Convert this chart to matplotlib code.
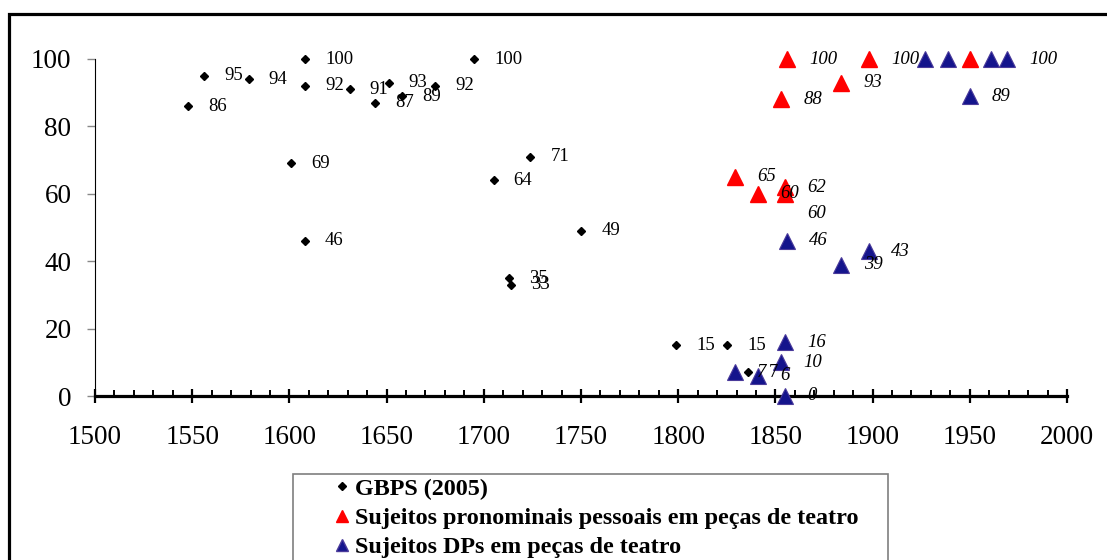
import matplotlib
matplotlib.use('Agg')
import matplotlib.pyplot as plt
from matplotlib.lines import Line2D
from matplotlib.patches import Rectangle
from matplotlib.ticker import MultipleLocator

# ============================================================================
# DATA
# ============================================================================
gbps_years = [1548, 1556, 1579, 1608, 1608, 1601, 1608, 1631, 1644, 1651,
              1658, 1675, 1695, 1705, 1724, 1713, 1714, 1750, 1799, 1825, 1836]
gbps_values = [86, 95, 94, 100, 92, 69, 46, 91, 87, 93,
               89, 92, 100, 64, 71, 35, 33, 49, 15, 15, 7]

pron_years = [1829, 1841, 1853, 1855, 1855, 1856, 1884, 1898, 1950]
pron_values = [65, 60, 88, 62, 60, 100, 93, 100, 100]
pron_labels = ['65', '60', '88', '62', '60', '100', '93', '100', '']

dp_years = [1829, 1841, 1853, 1855, 1856, 1855, 1884, 1898,
            1927, 1939, 1950, 1961, 1969]
dp_values = [7, 6, 10, 16, 46, 0, 39, 43, 100, 100, 89, 100, 100]
dp_labels = ['7', '6', '10', '16', '46', '0', '39', '43',
             '', '', '89', '', '100']

legend_labels = ['GBPS (2005)',
                 'Sujeitos pronominais pessoais em peças de teatro',
                 'Sujeitos DPs em peças de teatro']

# ============================================================================
# STYLE
# ============================================================================
SERIF = 'Liberation Serif'
RED = '#ff0000'
NAVY = '#14148c'
W, H = 1107, 560

fig = plt.figure(figsize=(W / 100, H / 100), dpi=100)
ax = fig.add_axes([95 / W, 1 - 396 / H, (1067 - 95) / W, (396 - 59) / H])

# series
ax.plot(gbps_years, gbps_values, linestyle='none', marker='D', markersize=4,
        color='black', clip_on=False, zorder=3)
ax.plot(pron_years, pron_values, linestyle='none', marker='^', markersize=11,
        color=RED, clip_on=False, zorder=4)
ax.plot(dp_years, dp_values, linestyle='none', marker='^', markersize=11,
        markerfacecolor=NAVY, markeredgecolor='#4a3a9a', markeredgewidth=0.8,
        clip_on=False, zorder=5)

# data labels to the right of each point
for x, y in zip(gbps_years, gbps_values):
    ax.annotate(str(y), (x, y), xytext=(14.5, 0), textcoords='offset points',
                ha='left', va='center', fontsize=13.5, family=SERIF,
                annotation_clip=False, zorder=6)

for i, (x, y, s) in enumerate(zip(pron_years, pron_values, pron_labels)):
    if not s:
        continue
    dy = -14 if (i == 4) else 0
    ax.annotate(s, (x, y), xytext=(16, dy), textcoords='offset points',
                ha='left', va='center', fontsize=13.5, family=SERIF,
                style='italic', annotation_clip=False, zorder=6)

for x, y, s in zip(dp_years, dp_values, dp_labels):
    if not s:
        continue
    ax.annotate(s, (x, y), xytext=(16, 0), textcoords='offset points',
                ha='left', va='center', fontsize=13.5, family=SERIF,
                style='italic', annotation_clip=False, zorder=6)

# axes
ax.set_xlim(1500, 2000)
ax.set_ylim(0, 100)
ax.xaxis.set_major_locator(MultipleLocator(50))
ax.xaxis.set_minor_locator(MultipleLocator(10))
ax.yaxis.set_major_locator(MultipleLocator(20))

for side in ['top', 'right']:
    ax.spines[side].set_visible(False)
ax.spines['bottom'].set_linewidth(2.3)
ax.spines['left'].set_linewidth(0.8)
ax.spines['bottom'].set_zorder(2)

ax.tick_params(axis='x', which='major', direction='inout', length=10,
               width=1.6, pad=16, labelsize=19.5)
ax.tick_params(axis='x', which='minor', direction='in', length=4.5,
               width=1.4)
ax.tick_params(axis='y', which='major', direction='out', length=6,
               width=1, color='#888888', pad=11, labelsize=19.5)
for lbl in ax.get_xticklabels() + ax.get_yticklabels():
    lbl.set_fontfamily(SERIF)

# outer chart border (only top and left visible in the crop)
fig.patches.append(Rectangle((9 / W, -0.1), 1.2, 1 - 14 / H + 0.1,
                             transform=fig.transFigure, fill=False,
                             edgecolor='black', linewidth=2.3))

# legend box
fig.patches.append(Rectangle((293 / W, -0.05), (888 - 293) / W,
                             1 - 474 / H + 0.05, transform=fig.transFigure,
                             fill=False, edgecolor='#7f7f7f', linewidth=1.2))
handles = [
    Line2D([], [], linestyle='none', marker='D', markersize=4, color='black'),
    Line2D([], [], linestyle='none', marker='^', markersize=9, color=RED),
    Line2D([], [], linestyle='none', marker='^', markersize=9,
           markerfacecolor=NAVY, markeredgecolor='#4a3a9a'),
]
fig.legend(handles, legend_labels, loc='upper left',
           bbox_to_anchor=(334 / W, 1 - 478 / H), bbox_transform=fig.transFigure,
           frameon=False, borderpad=0, borderaxespad=0, handlelength=0.7,
           handletextpad=0.15, labelspacing=0.3,
           prop={'family': SERIF, 'weight': 'bold', 'size': 17.4})

fig.savefig('out.png', dpi=100)
